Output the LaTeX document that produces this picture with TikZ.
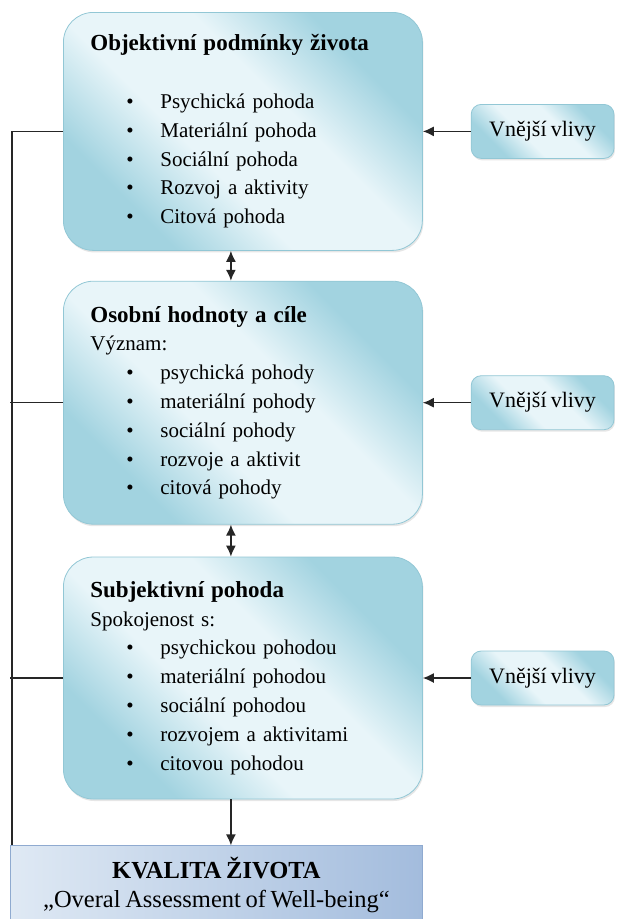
\documentclass[tikz,border=0pt]{standalone}
\usepackage{fontspec}
\setmainfont[WordSpace=0.75]{Liberation Serif}
\usetikzlibrary{positioning,arrows.meta,shadows}

\definecolor{boxlight}{HTML}{E8F5F9}
\definecolor{boxdark}{HTML}{A2D3E0}
\definecolor{boxline}{HTML}{92C7D5}
\definecolor{kvallight}{HTML}{DFE9F4}
\definecolor{kvaldark}{HTML}{A3BCDD}
\definecolor{kvalline}{HTML}{8FAAD0}

\pgfdeclarehorizontalshading{oblastshade}{100bp}{color(0bp)=(boxdark); color(28bp)=(boxdark);
    color(42bp)=(boxlight); color(58bp)=(boxlight); color(72bp)=(boxdark); color(100bp)=(boxdark)}

\newcommand{\polozka}[1]{\hspace*{36pt}\makebox[34pt][l]{\textbullet}#1}
\newcommand{\nadpis}[1]{{\fontsize{23}{28.8}\selectfont\bfseries #1}}

\begin{document}
\begin{tikzpicture}[x=1pt, y=-1pt,
    font=\fontsize{21}{28.8}\selectfont,
    >={Latex[length=11pt,width=10pt]},
    oblast/.style={rounded corners=30pt, draw=boxline, line width=0.8pt,
        shading=oblastshade, shading angle=45,
        drop shadow={opacity=0.2, shadow xshift=1pt, shadow yshift=-2pt},
        text width=305pt, inner xsep=27pt, inner ysep=0pt, align=left},
    vliv/.style={rounded corners=10pt, draw=boxline, line width=0.8pt,
        shading=oblastshade, shading angle=45,
        drop shadow={opacity=0.2, shadow xshift=1pt, shadow yshift=-2pt},
        minimum height=54pt, inner xsep=18pt, font=\fontsize{22}{28.8}\selectfont},
    kvalita/.style={draw=kvalline, line width=0.8pt, left color=kvallight, right color=kvaldark,
        minimum width=412pt, minimum height=78pt, align=center,
        font=\fontsize{24.5}{28.5}\selectfont},
    sipka/.style={line width=1.5pt, draw=black!85}
]

    \useasboundingbox (0,0) rectangle (618,919);
    \clip (0,0) rectangle (618,919);

    \node[oblast, minimum height=238pt, anchor=north west] (obj) at (63,12)
    {\nadpis{Objektivní podmínky života}\\[28.8pt]
     \polozka{Psychická pohoda}\\
     \polozka{Materiální pohoda}\\
     \polozka{Sociální pohoda}\\
     \polozka{Rozvoj a aktivity}\\
     \polozka{Citová pohoda}};

    \node[oblast, minimum height=243pt, below=30pt of obj] (osob)
    {\nadpis{Osobní hodnoty a cíle}\\
     Význam:\\
     \polozka{psychická pohody}\\
     \polozka{materiální pohody}\\
     \polozka{sociální pohody}\\
     \polozka{rozvoje a aktivit}\\
     \polozka{citová pohody}};

    \node[oblast, minimum height=242pt, below=32pt of osob] (subj)
    {\nadpis{Subjektivní pohoda}\\
     Spokojenost s:\\
     \polozka{psychickou pohodou}\\
     \polozka{materiální pohodou}\\
     \polozka{sociální pohodou}\\
     \polozka{rozvojem a aktivitami}\\
     \polozka{citovou pohodou}};

    \node[kvalita, below=46pt of subj.south east, anchor=north east] (kval)
    {\textbf{KVALITA ŽIVOTA}\\
     „Overal Assessment of Well-being“};

    \node[vliv, right=48pt of obj] (vliv1) {Vnější vlivy};
    \node[vliv, right=48pt of osob] (vliv2) {Vnější vlivy};
    \node[vliv, right=48pt of subj] (vliv3) {Vnější vlivy};

    \draw[sipka,->] (vliv1) -- (obj);
    \draw[sipka,->] (vliv2) -- (osob);
    \draw[sipka,->] (vliv3) -- (subj);

    \draw[sipka,<->] ([xshift=-12pt]obj.south) -- ([xshift=-12pt]osob.north);
    \draw[sipka,<->] ([xshift=-12pt]osob.south) -- ([xshift=-12pt]subj.north);
    \draw[sipka,->] ([xshift=-12pt]subj.south) -- ([xshift=-12pt]subj.south |- kval.north);

    \draw[sipka] (obj.west) -| ([xshift=2pt]kval.north west);
    \draw[sipka] (osob.west) -- (osob.west -| kval.west);
    \draw[sipka] (subj.west) -- (subj.west -| kval.west);

\end{tikzpicture}
\end{document}
